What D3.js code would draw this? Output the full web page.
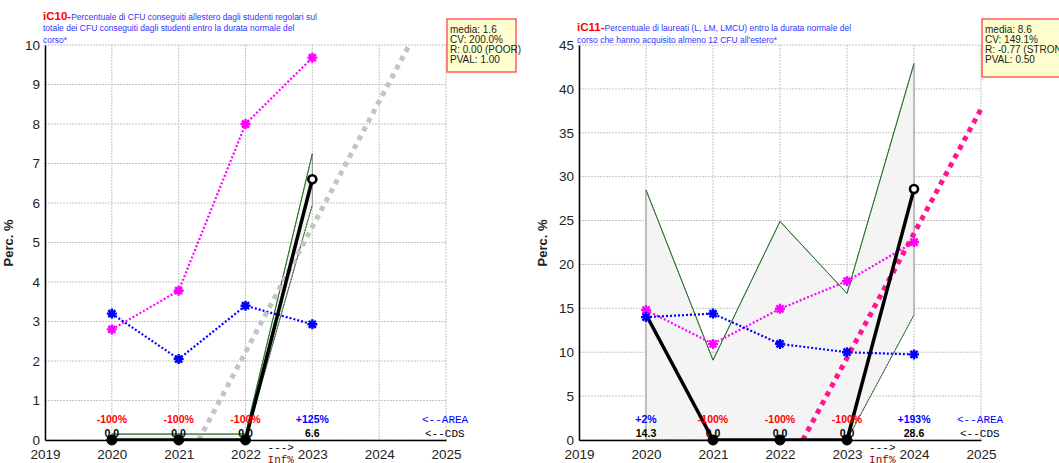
<!DOCTYPE html>
<html><head><meta charset="utf-8">
<script src="https://cdn.jsdelivr.net/npm/d3@7"></script>
<style>body{margin:0;background:#fff;} svg{display:block;font-family:"Liberation Sans",Arial,sans-serif;}</style>
</head><body><svg id="c" width="1059" height="463"></svg>
<script>
// ---------- data: left panel (iC10) ----------
const years1 = [2020, 2021, 2022, 2023];
const cds1 = [0, 0, 0, 6.6];
const magenta1 = [2.8, 3.78, 8.0, 9.68];
const blue1 = [3.2, 2.05, 3.4, 2.93];
const bandUp1 = [0.15, 0.15, 0.15, 7.25];
const bandLo1 = [0, 0, 0, 5.95];
const pct1 = ["-100%", "-100%", "-100%", "+125%"];
const cdsLabels1 = ["0.0", "0.0", "0.0", "6.6"];
const trend1 = [[2021.3, 0], [2024.45, 10]];
const stats1 = ["media: 1.6", "CV: 200.0%", "R: 0.00 (POOR)", "PVAL: 1.00"];
const yTicks1 = [0,1,2,3,4,5,6,7,8,9,10];
const code1 = "iC10-";
const title1 = ["Percentuale di CFU conseguiti allestero dagli studenti regolari sul",
  "totale dei CFU conseguiti dagli studenti entro la durata normale del", "corso*"];
const infYear1 = 2023;

// ---------- data: right panel (iC11) ----------
const years2 = [2020, 2021, 2022, 2023, 2024];
const cds2 = [14.3, 0, 0, 0, 28.6];
const magenta2 = [14.8, 10.95, 14.95, 18.1, 22.55];
const blue2 = [14.0, 14.4, 10.95, 10.0, 9.75];
const bandUp2 = [28.5, 9.1, 24.9, 16.7, 42.9];
const bandLo2 = [0, 0, 0, 0, 14.25];
const pct2 = ["+2%", "-100%", "-100%", "-100%", "+193%"];
const cdsLabels2 = ["14.3", "0.0", "0.0", "0.0", "28.6"];
const trend2 = [[2022.34, 0], [2025, 37.7]];
const stats2 = ["media: 8.6", "CV: 149.1%", "R: -0.77 (STRONG)", "PVAL: 0.50"];
const yTicks2 = [0,5,10,15,20,25,30,35,40,45];
const code2 = "iC11-";
const title2 = ["Percentuale di laureati (L, LM, LMCU) entro la durata normale del",
  "corso che hanno acquisito almeno 12 CFU all'estero*"];
const infYear2 = 2024;

const xTicks = [2019, 2020, 2021, 2022, 2023, 2024, 2025];

const svg = d3.select("#c");

function panel(o) {
  const g = svg.append("g");
  const x = d3.scaleLinear().domain([2019, 2025]).range([o.left, o.right]);
  const y = d3.scaleLinear().domain([0, o.ymax]).range([440, 45]);
  const clipId = "clip" + o.id;
  svg.append("clipPath").attr("id", clipId).append("rect")
    .attr("x", o.left).attr("y", 40).attr("width", o.right - o.left + 5).attr("height", 400);

  // grid
  const grid = g.append("g").attr("stroke", "#c4c4c4").attr("stroke-dasharray", "2,1").attr("stroke-width", 1);
  o.yTicks.forEach(t => grid.append("line").attr("x1", o.left).attr("x2", o.right).attr("y1", y(t)).attr("y2", y(t)));
  xTicks.forEach(t => grid.append("line").attr("x1", x(t)).attr("x2", x(t)).attr("y1", 45).attr("y2", 440));

  // band
  const pts = o.years.map((yr, i) => [x(yr), y(o.up[i])]).concat(
    o.years.map((yr, i) => [x(yr), y(o.lo[i])]).reverse());
  g.append("path").attr("d", d3.line()(pts) + "Z").attr("fill", "#f4f4f4").attr("stroke", "#8a8a8a").attr("stroke-width", 1);
  const ln = d3.line().x((d, i) => x(o.years[i])).y(d => y(d));
  g.append("path").attr("d", ln(o.up)).attr("fill", "none").attr("stroke", "#1f7a1f").attr("stroke-width", 1);
  g.append("path").attr("d", ln(o.lo)).attr("fill", "none").attr("stroke", "#1f7a1f").attr("stroke-width", 1).attr("stroke-dasharray", "2,1");

  // axes
  const yAx = g.append("g").attr("transform", `translate(${o.left},0)`)
    .call(d3.axisLeft(y).tickValues(o.yTicks).tickSize(0).tickPadding(5));
  const xAx = g.append("g").attr("transform", `translate(0,440)`)
    .call(d3.axisBottom(x).tickValues(xTicks).tickFormat(d3.format("d")).tickSize(0).tickPadding(9));
  [yAx, xAx].forEach(a => {
    a.select(".domain").attr("stroke", "#000").attr("stroke-width", 1.5);
    a.selectAll("text").attr("font-size", 13.5).attr("fill", "#222").attr("font-family", "Liberation Sans, Arial, sans-serif");
  });

  // colored lines
  const cl = g.append("g").attr("clip-path", `url(#${clipId})`);
  cl.append("path").attr("d", ln(o.magenta)).attr("fill", "none").attr("stroke", "#ff00ff").attr("stroke-width", 2.2).attr("stroke-dasharray", "2,2");
  cl.append("path").attr("d", ln(o.blue)).attr("fill", "none").attr("stroke", "#0000ff").attr("stroke-width", 2.2).attr("stroke-dasharray", "2,2");
  cl.append("path").attr("d", d3.line().x(d => x(d[0])).y(d => y(d[1]))(o.trend))
    .attr("fill", "none").attr("stroke", o.trendColor).attr("stroke-width", 5).attr("stroke-dasharray", "5,5");
  cl.append("path").attr("d", ln(o.cds)).attr("fill", "none").attr("stroke", "#000").attr("stroke-width", 3.5);

  // asterisk markers
  function star(cx, cy, color) {
    const r = 5;
    const p = d3.path();
    for (let k = 0; k < 4; k++) {
      const a = k * Math.PI / 4;
      p.moveTo(cx - r * Math.cos(a), cy - r * Math.sin(a));
      p.lineTo(cx + r * Math.cos(a), cy + r * Math.sin(a));
    }
    g.append("path").attr("d", p.toString()).attr("stroke", color).attr("stroke-width", 2.4).attr("fill", "none");
  }
  o.years.forEach((yr, i) => star(x(yr), y(o.magenta[i]), "#ff00ff"));
  o.years.forEach((yr, i) => star(x(yr), y(o.blue[i]), "#0000ff"));

  // cds markers
  o.years.forEach((yr, i) => {
    const last = i === o.years.length - 1;
    if (o.cds[i] === 0 || last) {
      g.append("circle").attr("cx", x(yr)).attr("cy", y(o.cds[i]))
        .attr("r", last ? 4 : 5).attr("fill", last ? "#fff" : "#000")
        .attr("stroke", "#000").attr("stroke-width", last ? 2.6 : 1);
    }
  });

  // pct and value labels
  o.years.forEach((yr, i) => {
    g.append("text").attr("x", x(yr)).attr("y", 423).attr("text-anchor", "middle")
      .attr("font-size", 10.5).attr("font-weight", "bold")
      .attr("fill", o.pct[i].startsWith("-") ? "#ff0000" : "#0000ff").text(o.pct[i]);
    g.append("text").attr("x", x(yr)).attr("y", 437).attr("text-anchor", "middle")
      .attr("font-size", 10.5).attr("font-weight", "bold").attr("fill", "#000").text(o.cdsLabels[i]);
  });
  g.append("text").attr("x", x(2025) - 24).attr("y", 423).attr("font-family", "Liberation Mono, monospace")
    .attr("font-size", 11).attr("fill", "#0000ff").text("<--AREA");
  g.append("text").attr("x", x(2025) - 21).attr("y", 437).attr("font-family", "Liberation Mono, monospace")
    .attr("font-size", 11).attr("fill", "#000").text("<--CDS");
  g.append("text").attr("x", x(o.infYear - 0.67)).attr("y", 451).attr("font-family", "Liberation Mono, monospace")
    .attr("font-size", 11).attr("fill", "#000").text("--->");
  g.append("text").attr("x", x(o.infYear - 0.67)).attr("y", 463).attr("font-family", "Liberation Mono, monospace")
    .attr("font-size", 11).attr("fill", "#8b0000").text("Inf%");

  // y label
  g.append("text").attr("transform", `translate(${o.left - 32},243) rotate(-90)`).attr("text-anchor", "middle")
    .attr("font-size", 13).attr("font-weight", "bold").attr("fill", "#222").text("Perc. %");

  // title
  const t = g.append("text").attr("x", o.left - 2).attr("y", o.titleY).attr("font-size", 8.5).attr("fill", "#3333ff");
  t.append("tspan").attr("font-size", 11.5).attr("font-weight", "bold").attr("fill", "#ff0000").text(o.code);
  t.append("tspan").text(o.title[0]);
  o.title.slice(1).forEach((s, k) => {
    g.append("text").attr("x", o.left - 2).attr("y", o.titleY + 11.7 * (k + 1)).attr("font-size", 8.5)
      .attr("fill", "#3333ff").text(s);
  });

  // stats box
  g.append("rect").attr("x", o.boxX).attr("y", 19).attr("width", o.boxW).attr("height", o.boxH)
    .attr("fill", "#ffffd0").attr("stroke", "#ff3333").attr("stroke-width", 1.2);
  o.stats.forEach((s, k) => g.append("text").attr("x", o.boxX + 3).attr("y", 33 + 10 * k)
    .attr("font-size", 10).attr("fill", "#222").text(s));
}

panel({id: 1, left: 45, right: 446, ymax: 10, yTicks: yTicks1, years: years1, cds: cds1, magenta: magenta1,
  blue: blue1, up: bandUp1, lo: bandLo1, pct: pct1, cdsLabels: cdsLabels1, trend: trend1, trendColor: "#c4c4c4",
  stats: stats1, code: code1, title: title1, titleY: 19.5, infYear: infYear1, boxX: 447, boxW: 69, boxH: 53});
panel({id: 2, left: 579, right: 981, ymax: 45, yTicks: yTicks2, years: years2, cds: cds2, magenta: magenta2,
  blue: blue2, up: bandUp2, lo: bandLo2, pct: pct2, cdsLabels: cdsLabels2, trend: trend2, trendColor: "#ff1493",
  stats: stats2, code: code2, title: title2, titleY: 31, infYear: infYear2, boxX: 982, boxW: 90, boxH: 58});
</script></body></html>
